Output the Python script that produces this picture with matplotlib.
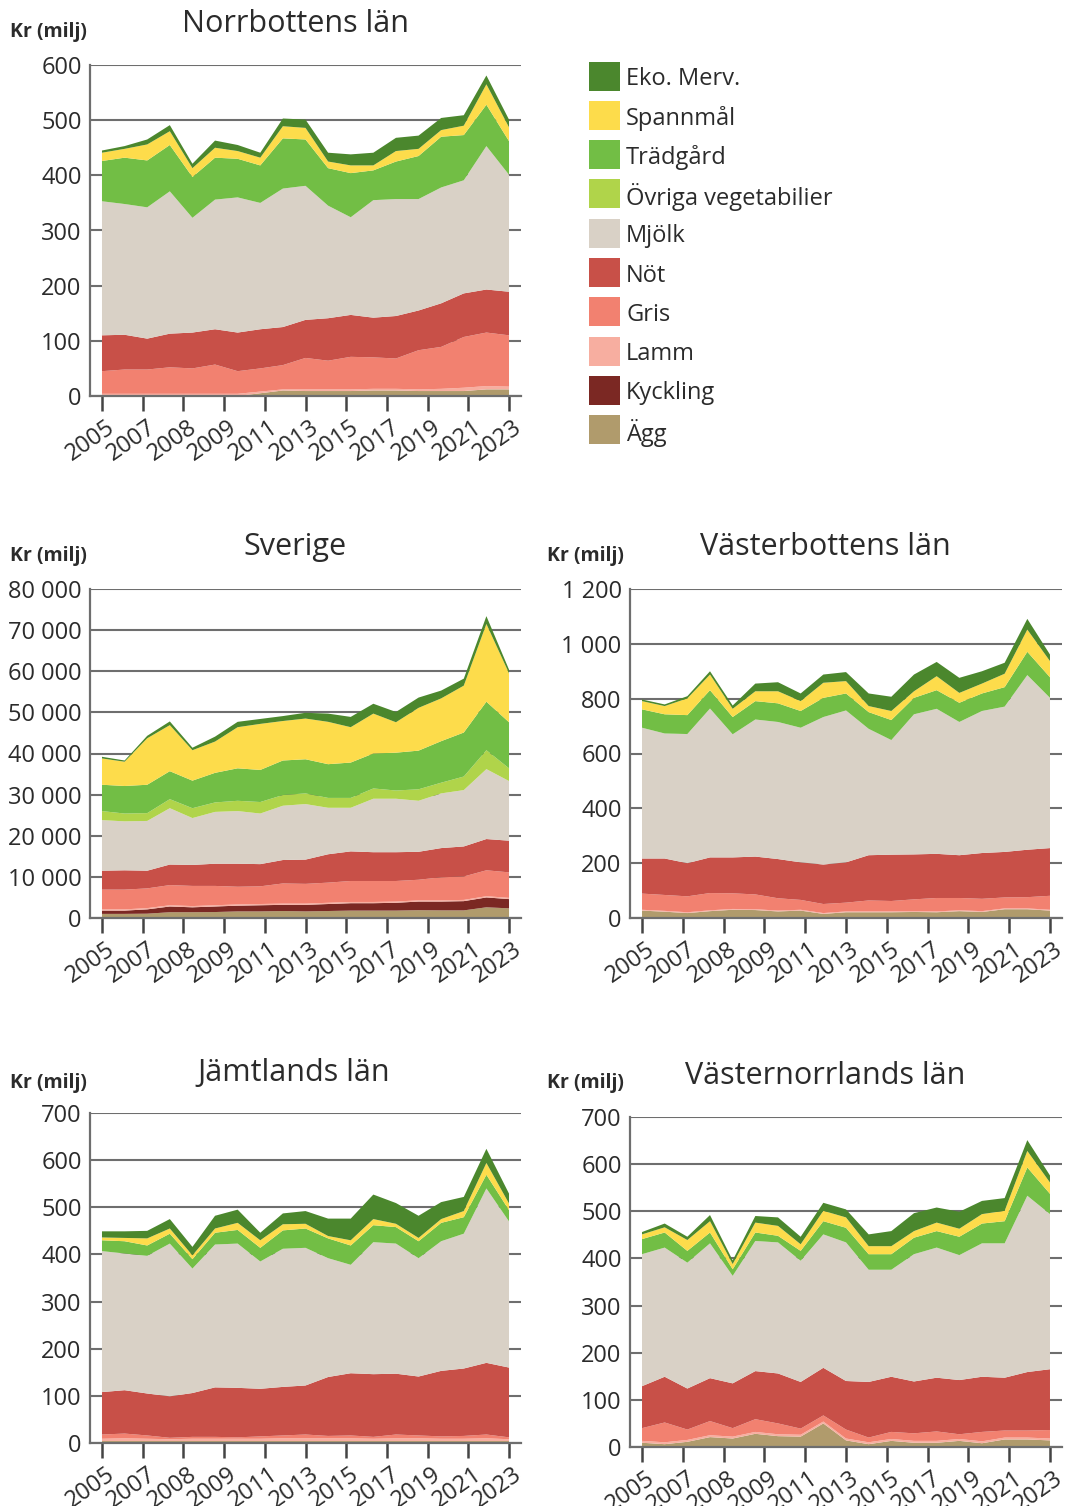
import matplotlib
matplotlib.use("Agg")
import matplotlib.pyplot as plt
import numpy as np
from matplotlib.patches import Rectangle
from matplotlib.ticker import FuncFormatter
from matplotlib.transforms import ScaledTranslation

plt.rcParams['font.family'] = ['Open Sans', 'DejaVu Sans']

# --- data (Mkr) ---------------------------------------------------------
years = list(range(2005, 2024))
tick_labels = ['2005', '2007', '2008', '2009', '2011', '2013', '2015',
               '2017', '2019', '2021', '2023']

series_names = ['Ägg', 'Kyckling', 'Lamm', 'Gris', 'Nöt', 'Mjölk',
                'Övriga vegetabilier', 'Trädgård', 'Spannmål', 'Eko. Merv.']
series_colors = ['#b09b6c', '#7b2823', '#f7aea0', '#f28170', '#c85048',
                 '#d9d1c6', '#b0d44a', '#72be45', '#fddc4b', '#4b872d']

# Norrbottens län
nb_agg = [0, 0, 0, 0, 0, 0, 0, 5, 10, 9, 9, 9, 10, 10, 9, 9, 9, 12, 12]
nb_kyckling = [0] * 19
nb_lamm = [4, 4, 4, 4, 4, 4, 4, 3, 2, 3, 3, 3, 3, 3, 3, 4, 6, 6, 5]
nb_gris = [41, 44, 44, 48, 46, 53, 41, 42, 44, 57, 52, 59, 57, 55, 71, 76, 92, 97, 93]
nb_not = [65, 63, 56, 61, 65, 64, 70, 71, 69, 69, 77, 76, 72, 77, 72, 79, 79, 78, 79]
nb_mjolk = [243, 237, 238, 258, 208, 235, 245, 229, 251, 243, 204, 177, 213, 212, 202, 210, 205, 260, 212]
nb_ovriga = [0] * 19
nb_tradgard = [73, 84, 85, 84, 74, 76, 70, 68, 91, 84, 68, 80, 54, 68, 78, 92, 82, 75, 61]
nb_spannmal = [15, 16, 29, 25, 16, 18, 14, 14, 22, 21, 12, 14, 9, 19, 13, 12, 17, 37, 25]
nb_eko = [4, 5, 9, 11, 8, 13, 11, 9, 14, 15, 16, 20, 23, 24, 24, 22, 19, 16, 14]

# Sverige
sv_agg = [1000, 1000, 1050, 1400, 1400, 1450, 1600, 1600, 1700, 1600, 1700, 1800, 1800, 1800, 1900, 1850, 1850, 2600, 2350]
sv_kyckling = [800, 800, 1050, 1400, 1200, 1350, 1400, 1500, 1500, 1600, 1700, 1800, 1800, 1900, 2100, 2150, 2250, 2400, 2250]
sv_lamm = [300] * 19
sv_gris = [4800, 4800, 4800, 4900, 4900, 4700, 4300, 4300, 4900, 4800, 4900, 5100, 5100, 5000, 5000, 5600, 5700, 6300, 6200]
sv_not = [4600, 4700, 4300, 5000, 5100, 5400, 5600, 5400, 5700, 5900, 6900, 7200, 7000, 7000, 6800, 7100, 7300, 7600, 7700]
sv_mjolk = [12300, 11900, 12100, 13700, 11400, 12600, 12800, 12300, 13200, 13500, 11300, 10600, 13000, 13000, 12400, 13300, 13700, 17000, 14500]
sv_ovriga = [2200, 1900, 1900, 2200, 2400, 2300, 2500, 2800, 2600, 2600, 2400, 2400, 2500, 2000, 2800, 2600, 3300, 4600, 3100]
sv_tradgard = [6400, 6700, 6900, 6800, 6700, 7200, 7900, 7800, 8400, 8300, 8200, 8600, 8500, 9200, 9400, 10100, 10700, 11800, 11200]
sv_spannmal = [6400, 5900, 11300, 11200, 7400, 7600, 10000, 11200, 9600, 9900, 10300, 8600, 9700, 7400, 10400, 10400, 11400, 18900, 11900]
sv_eko = [400, 300, 600, 900, 600, 1200, 1300, 1200, 1200, 1400, 2000, 2500, 2400, 2500, 2500, 1900, 1700, 1900, 900]

# Västerbottens län
vb_agg = [27, 23, 18, 25, 30, 29, 24, 27, 15, 21, 21, 21, 22, 21, 25, 22, 32, 32, 27]
vb_kyckling = [0] * 19
vb_lamm = [3] * 19
vb_gris = [59, 58, 58, 63, 57, 54, 45, 36, 33, 32, 40, 38, 43, 49, 45, 45, 40, 41, 51]
vb_not = [128, 133, 121, 130, 131, 138, 143, 137, 144, 147, 165, 169, 164, 161, 156, 167, 166, 173, 174]
vb_mjolk = [477, 456, 471, 543, 449, 500, 500, 491, 538, 554, 461, 418, 511, 529, 486, 518, 530, 637, 548]
vb_ovriga = [0] * 19
vb_tradgard = [67, 70, 69, 67, 63, 67, 68, 61, 70, 62, 61, 73, 60, 68, 70, 64, 71, 85, 75]
vb_spannmal = [30, 30, 61, 57, 30, 36, 44, 36, 55, 45, 22, 33, 24, 51, 36, 36, 49, 81, 59]
vb_eko = [6, 6, 8, 12, 12, 28, 33, 28, 30, 33, 46, 52, 61, 52, 55, 45, 40, 39, 24]

# Jämtlands län
jl_agg = [4] * 19
jl_kyckling = [0] * 19
jl_lamm = [5, 6, 5, 4, 5, 5, 5, 5, 6, 6, 6, 6, 5, 6, 6, 5, 5, 6, 4]
jl_gris = [9, 10, 7, 3, 4, 4, 3, 5, 6, 8, 5, 6, 4, 8, 6, 5, 6, 8, 4]
jl_not = [90, 92, 89, 88, 93, 105, 105, 101, 103, 104, 125, 132, 133, 129, 125, 139, 143, 152, 148]
jl_mjolk = [299, 290, 292, 324, 264, 303, 306, 270, 293, 292, 252, 230, 280, 276, 251, 275, 286, 370, 310]
jl_ovriga = [0] * 19
jl_tradgard = [23, 26, 22, 21, 20, 25, 29, 29, 39, 41, 42, 41, 36, 35, 36, 39, 35, 29, 24]
jl_spannmal = [6, 7, 15, 11, 8, 9, 15, 16, 13, 10, 5, 11, 13, 7, 7, 8, 13, 25, 14]
jl_eko = [13, 14, 16, 20, 18, 27, 28, 16, 23, 27, 37, 46, 52, 44, 47, 36, 30, 30, 21]

# Västernorrlands län
vn_agg = [9, 6, 11, 21, 18, 28, 23, 22, 50, 14, 6, 13, 9, 9, 13, 8, 16, 16, 14]
vn_kyckling = [0] * 19
vn_lamm = [4] * 19
vn_gris = [27, 42, 22, 30, 18, 27, 23, 13, 13, 19, 10, 15, 16, 20, 10, 20, 15, 15, 18]
vn_not = [89, 97, 87, 91, 95, 102, 106, 99, 101, 103, 118, 117, 110, 114, 115, 117, 112, 124, 129]
vn_mjolk = [280, 274, 267, 286, 228, 276, 278, 257, 283, 294, 238, 227, 270, 276, 265, 283, 285, 374, 329]
vn_ovriga = [0] * 19
vn_tradgard = [32, 32, 25, 23, 14, 18, 14, 21, 28, 31, 33, 33, 35, 35, 39, 42, 47, 60, 43]
vn_spannmal = [10, 11, 23, 24, 11, 21, 21, 14, 22, 22, 17, 17, 14, 18, 17, 20, 22, 35, 24]
vn_eko = [5, 8, 7, 13, 8, 14, 18, 16, 17, 17, 25, 32, 38, 32, 36, 28, 27, 23, 15]

# --- figure --------------------------------------------------------------
W, H = 1066, 1506
TXT = '#2b2b2b'
AXC = '#6e6e6e'

fig = plt.figure(figsize=(W / 100, H / 100), dpi=100)


def fx(px):
    return px / W


def fy(py):
    return 1 - py / H


def thousands(v, pos):
    return f'{int(v):,}'.replace(',', ' ')


def draw_panel(rect, series, ymax, ystep, title, title_pos, unit_pos):
    left, top, right, bottom = rect
    ax = fig.add_axes([fx(left), fy(bottom), (right - left) / W, (bottom - top) / H])
    x = np.arange(len(years))
    ax.stackplot(x, *series, colors=series_colors, linewidth=0, zorder=2)

    ax.set_xlim(-0.53, len(years) - 1 + 0.53)
    ax.set_ylim(0, ymax)
    ax.set_yticks(np.arange(0, ymax + 1, ystep))
    ax.yaxis.set_major_formatter(FuncFormatter(thousands))
    ax.yaxis.grid(True, color=AXC, lw=1.5, zorder=0)
    ax.set_axisbelow(True)
    ax.tick_params(axis='y', length=0, pad=6, labelsize=17, labelcolor=TXT)

    ax.set_xticks(np.linspace(0, len(years) - 1, len(tick_labels)))
    ax.set_xticklabels(tick_labels, rotation=35, ha='right', rotation_mode='anchor')
    ax.tick_params(axis='x', length=11, width=1.8, color='#444444', pad=3,
                   labelsize=17, labelcolor=TXT)
    shift = ScaledTranslation(0.04, 0, fig.dpi_scale_trans)
    for lab in ax.get_xticklabels():
        lab.set_transform(lab.get_transform() + shift)

    for side in ('top', 'right'):
        ax.spines[side].set_visible(False)
    for side in ('left', 'bottom'):
        ax.spines[side].set_color(AXC)
        ax.spines[side].set_linewidth(1.6)
        ax.spines[side].set_zorder(3)

    fig.text(fx(title_pos[0]), fy(title_pos[1]), title, ha='center', va='baseline',
             fontsize=22, color=TXT)
    fig.text(fx(unit_pos[0]), fy(unit_pos[1]), 'Kr (milj)', ha='left', va='baseline',
             fontsize=14, fontweight='bold', color=TXT)
    return ax


draw_panel((90, 65, 521, 396),
           [nb_agg, nb_kyckling, nb_lamm, nb_gris, nb_not, nb_mjolk,
            nb_ovriga, nb_tradgard, nb_spannmal, nb_eko],
           600, 100, 'Norrbottens län', (295, 32), (10, 37))

draw_panel((90, 589, 521, 918),
           [sv_agg, sv_kyckling, sv_lamm, sv_gris, sv_not, sv_mjolk,
            sv_ovriga, sv_tradgard, sv_spannmal, sv_eko],
           80000, 10000, 'Sverige', (295, 555), (10, 561))

draw_panel((630, 589, 1062, 918),
           [vb_agg, vb_kyckling, vb_lamm, vb_gris, vb_not, vb_mjolk,
            vb_ovriga, vb_tradgard, vb_spannmal, vb_eko],
           1200, 200, 'Västerbottens län', (825, 555), (547, 561))

draw_panel((90, 1113, 521, 1443),
           [jl_agg, jl_kyckling, jl_lamm, jl_gris, jl_not, jl_mjolk,
            jl_ovriga, jl_tradgard, jl_spannmal, jl_eko],
           700, 100, 'Jämtlands län', (294, 1081), (10, 1088))

draw_panel((630, 1117, 1062, 1447),
           [vn_agg, vn_kyckling, vn_lamm, vn_gris, vn_not, vn_mjolk,
            vn_ovriga, vn_tradgard, vn_spannmal, vn_eko],
           700, 100, 'Västernorrlands län', (825, 1084), (547, 1088))

# legend, top entry is the top layer
row_y = 76
for name, color in zip(series_names[::-1], series_colors[::-1]):
    fig.patches.append(Rectangle((fx(589), fy(row_y + 14.5)), 31 / W, 29 / H,
                                 transform=fig.transFigure, color=color, lw=0))
    fig.text(fx(626), fy(row_y), name, ha='left', va='center_baseline',
             fontsize=17, color=TXT)
    row_y += 39.3

fig.savefig('out.png', dpi=100)
